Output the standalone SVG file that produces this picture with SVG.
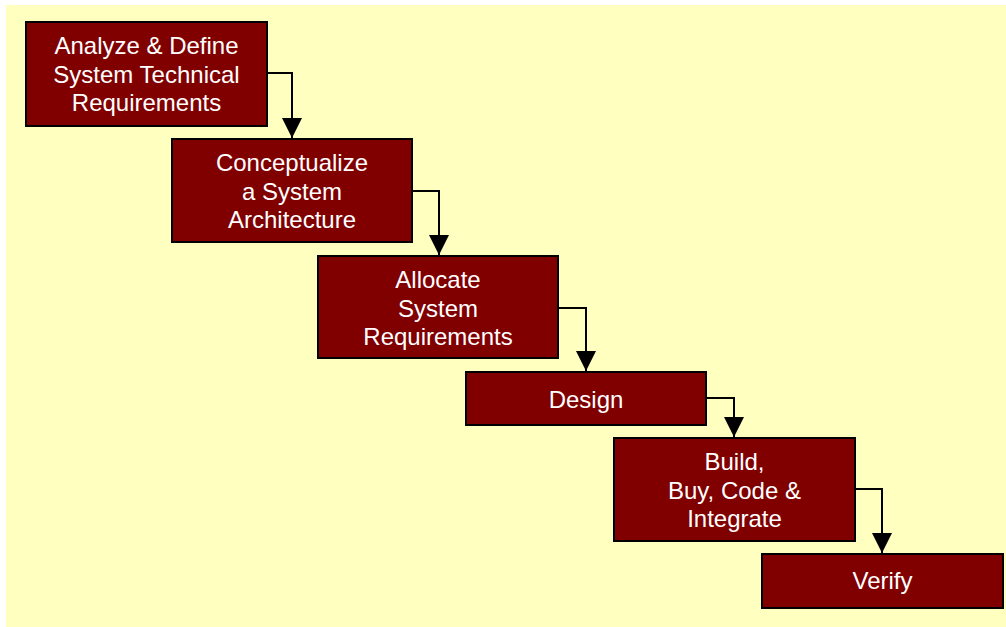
<svg xmlns="http://www.w3.org/2000/svg" width="1006" height="627" viewBox="0 0 1006 627">
<style>
.box{fill:#800000;stroke:#000;stroke-width:2}
.lbl{fill:#fff;font-family:"Liberation Sans",Arial,sans-serif;font-size:24px;text-anchor:middle}
.conn{fill:none;stroke:#000;stroke-width:2}
</style>
<defs>
<marker id="ah" markerWidth="20" markerHeight="20" refX="20" refY="10" orient="auto" markerUnits="userSpaceOnUse">
<path d="M0,0 L20,10 L0,20 Z" fill="#000"/>
</marker>
</defs>
<rect x="0" y="0" width="1006" height="627" fill="#fff"/>
<rect x="6" y="5" width="1000" height="622" fill="#FFFFC0"/>
<g id="connectors">
<path class="conn" d="M267,73 H292 V138" marker-end="url(#ah)"/>
<path class="conn" d="M412,191 H439 V255" marker-end="url(#ah)"/>
<path class="conn" d="M558,308 H586 V371" marker-end="url(#ah)"/>
<path class="conn" d="M706,398 H734 V437" marker-end="url(#ah)"/>
<path class="conn" d="M855,489 H882 V553" marker-end="url(#ah)"/>
</g>
<g id="n1"><rect class="box" x="26" y="22" width="241" height="104"/>
<text class="lbl" x="146.5" y="54">Analyze &amp; Define</text>
<text class="lbl" x="146.5" y="83">System Technical</text>
<text class="lbl" x="146.5" y="111">Requirements</text></g>
<g id="n2"><rect class="box" x="172" y="139" width="240" height="103"/>
<text class="lbl" x="292" y="171">Conceptualize</text>
<text class="lbl" x="292" y="200">a System</text>
<text class="lbl" x="292" y="228">Architecture</text></g>
<g id="n3"><rect class="box" x="318" y="256" width="240" height="102"/>
<text class="lbl" x="438" y="288">Allocate</text>
<text class="lbl" x="438" y="317">System</text>
<text class="lbl" x="438" y="345">Requirements</text></g>
<g id="n4"><rect class="box" x="466" y="372" width="240" height="53"/>
<text class="lbl" x="586" y="408">Design</text></g>
<g id="n5"><rect class="box" x="614" y="438" width="241" height="103"/>
<text class="lbl" x="734.5" y="470">Build,</text>
<text class="lbl" x="734.5" y="499">Buy, Code &amp;</text>
<text class="lbl" x="734.5" y="527">Integrate</text></g>
<g id="n6"><rect class="box" x="762" y="554" width="241" height="54"/>
<text class="lbl" x="882.5" y="589">Verify</text></g>
</svg>
